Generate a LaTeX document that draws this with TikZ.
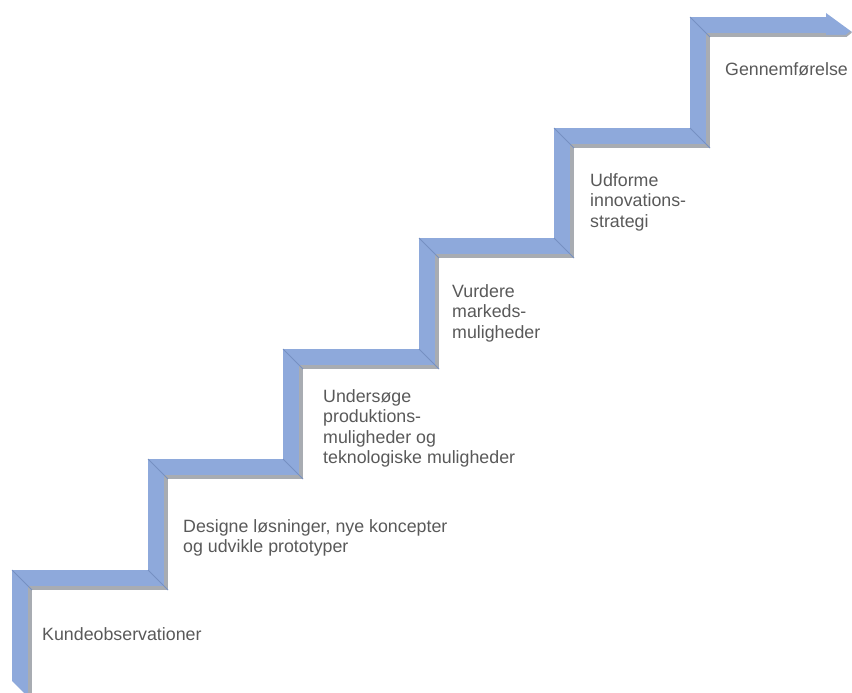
\documentclass[tikz,border=0pt]{standalone}
\usepackage{fontspec}
\setmainfont{Liberation Sans}
\usepackage{tikz}
\usetikzlibrary{positioning,calc}
\definecolor{stepblue}{RGB}{142,169,219}
\definecolor{stepside}{RGB}{168,172,178}
\definecolor{stepseam}{RGB}{118,144,194}
\definecolor{steptext}{RGB}{89,89,89}

\begin{document}
\begin{tikzpicture}[x=1pt,y=-1pt,
  band/.style={draw=stepblue,line width=20pt,line join=miter},
  side/.style={draw=stepside,line width=4pt,line join=miter},
  seam/.style={draw=stepseam,line width=0.8pt},
  steplabel/.style={anchor=base west,inner sep=0pt,align=left,text=steptext,font=\fontsize{17.8}{20.5}\selectfont}
]
\useasboundingbox (0,0) rectangle (852,693);

% corners of the stairs (centre line of the band)
\coordinate (foot) at (22,700);
\coordinate (c1) at (22,580);
\coordinate (c2) at (158,580);
\coordinate (c3) at (158,469);
\coordinate (c4) at (293,469);
\coordinate (c5) at (293,359);
\coordinate (c6) at (429,359);
\coordinate (c7) at (429,248);
\coordinate (c8) at (564,248);
\coordinate (c9) at (564,138);
\coordinate (c10) at (700,138);
\coordinate (c11) at (700,27);
\coordinate (top) at (826,27);

\draw[band] (foot) -- (c1) -- (c2) -- (c3) -- (c4) -- (c5) -- (c6) -- (c7) -- (c8) -- (c9) -- (c10) -- (c11) -- (top);
\begin{scope}[transform canvas={shift={(8,8)}}]
  \draw[side] (foot) -- (c1) -- (c2) -- (c3) -- (c4) -- (c5) -- (c6) -- (c7) -- (c8) -- (c9) -- (c10) -- (c11) -- (top);
\end{scope}
\foreach \c in {c1,c2,c3,c4,c5,c6,c7,c8,c9,c10,c11}
  \draw[seam] ([shift={(-10,-10)}]\c) -- ([shift={(10,10)}]\c);

% arrow end and cut foot
\fill[stepblue] (826,13) -- (852,32) -- (846,37) -- (826,37) -- cycle;
\draw[stepside,line width=2pt] (826,36) -- (846,36) -- (851,32);
\fill[white] (11,680) -- (11,694) -- (25,694) -- cycle;

% labels (anchored at the baseline of the last line)
\node[steplabel] (kunde) at (42,640) {Kundeobservationer};
\node[steplabel] (design) at (183,552.5) {Designe løsninger, nye koncepter\\og udvikle prototyper};
\node[steplabel] (undersoege) at (323,463.5) {Undersøge\\produktions-\\muligheder og\\teknologiske muligheder};
\node[steplabel] (vurdere) at (452,338) {Vurdere\\markeds-\\muligheder};
\node[steplabel] (udforme) at (590,227) {Udforme\\innovations-\\strategi};
\node[steplabel] (gennem) at (725,76) {Gennemførelse};
\end{tikzpicture}
\end{document}
